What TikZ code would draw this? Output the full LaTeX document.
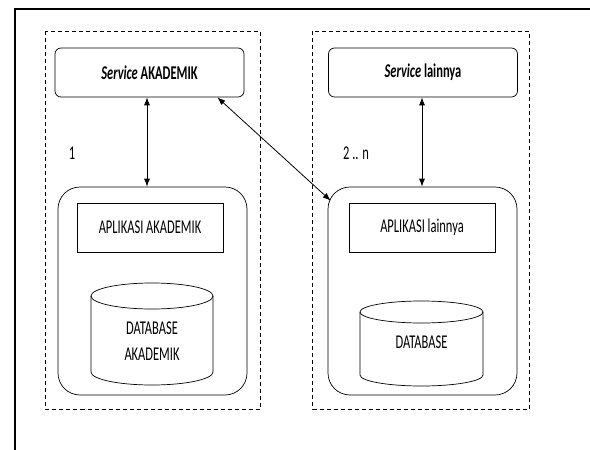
\documentclass[tikz,border=0pt]{standalone}
\usepackage{fontspec}
\setmainfont[FakeStretch=0.64]{Carlito}
\usetikzlibrary{arrows.meta,calc}
\begin{document}
\begin{tikzpicture}[x=1pt,y=-1pt,
  txt/.style={font=\fontsize{19.5}{22}\selectfont, text=black},
  svc/.style={draw, line width=0.7pt, rounded corners=6pt, inner sep=0pt, minimum width=189pt, minimum height=49pt, txt, font=\fontsize{19.5}{22}\selectfont\bfseries},
  grp/.style={draw, dashed, dash pattern=on 4pt off 3pt, line width=0.8pt},
  appbox/.style={draw, line width=0.7pt, rounded corners=22pt, inner sep=0pt, minimum width=189pt, minimum height=208pt},
  aplbox/.style={draw, line width=0.7pt, inner sep=0pt, minimum width=146pt, minimum height=49pt, txt},
  dbline/.style={draw, line width=0.7pt},
  dbtext/.style={txt, align=center},
  link/.style={{Latex[length=8pt,width=6pt]}-{Latex[length=8pt,width=6pt]}, line width=0.8pt}
]
\useasboundingbox (0,0) rectangle (590,450);
\clip (0,0) rectangle (590,450);
\fill[white] (0,0) rectangle (590,450);

% outer frame
\draw[line width=2.4pt] (15,9) rectangle (640,500);

% dashed groups
\draw[grp] (45.5,31) rectangle (260,409);
\draw[grp] (312.5,31) rectangle (529,409);

% services
\node[svc] (sa) at (149.5,72.5) {\textit{Service} AKADEMIK};
\node[svc] (sl) at (423,72.5) {\textit{Service} lainnya};

% application containers
\node[appbox] (la) at (152.5,291) {};
\node[appbox] (ra) at (422.5,291) {};

\node[aplbox] (aa) at (150,227.5) {APLIKASI AKADEMIK};
\node[aplbox] (al) at (422,227.5) {APLIKASI lainnya};

% databases
\draw[dbline] (91,296) -- (91,372) arc[start angle=180,end angle=360,x radius=61pt,y radius=13pt] -- (213,296);
\draw[dbline] (152,296) ellipse[x radius=61pt,y radius=13pt];
\node[dbtext] (dba) at (152,341.5) {DATABASE\\[4pt]AKADEMIK};

\draw[dbline] (360,312) -- (360,375) arc[start angle=180,end angle=360,x radius=61.5pt,y radius=11pt] -- (483,312);
\draw[dbline] (421.5,312) ellipse[x radius=61.5pt,y radius=11pt];
\node[dbtext] (dbl) at (421.5,342) {DATABASE};

% labels
\node[txt] (n1) at (72,153) {1};
\node[txt] (n2) at (356,153) {2 .. n};

% connectors
\draw[link] ([xshift=-2.5pt]sa.south) -- ([xshift=-2.5pt]sa.south |- la.north);
\draw[link] ([xshift=-1pt]sl.south) -- ([xshift=-1pt]sl.south |- ra.north);
\draw[link] ([xshift=-27pt]sa.south east) -- ([xshift=3pt,yshift=-14pt]ra.north west);
\end{tikzpicture}
\end{document}
